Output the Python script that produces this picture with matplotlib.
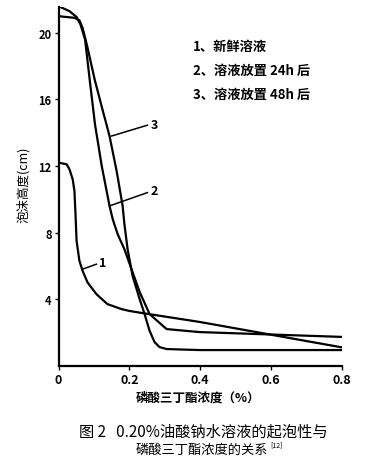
import matplotlib
matplotlib.use("Agg")
import matplotlib.pyplot as plt

plt.rcParams['font.family'] = ['Noto Sans CJK SC', 'DejaVu Sans']

# 曲线数据
# 1: 新鲜溶液
x1 = [0, 0.023, 0.031, 0.04, 0.045, 0.048, 0.051, 0.059, 0.068, 0.082, 0.107, 0.138,
      0.178, 0.20, 0.237, 0.398, 0.80]
y1 = [12.2, 12.1, 11.8, 11.2, 10.5, 9.1, 7.5, 6.3, 5.7, 5.0, 4.3, 3.7,
      3.4, 3.29, 3.16, 2.63, 1.1]

# 2: 放置 24h
x2 = [0, 0.031, 0.051, 0.062, 0.075, 0.089, 0.103, 0.122, 0.144, 0.153, 0.167, 0.186,
      0.206, 0.229, 0.257, 0.305, 0.398, 0.80]
y2 = [21.6, 21.3, 20.95, 20.5, 19.6, 17.0, 14.5, 12.0, 9.6, 8.8, 7.9, 7.0,
      5.8, 4.43, 3.1, 2.2, 2.02, 1.73]

# 3: 放置 48h
x3 = [0, 0.045, 0.059, 0.068, 0.082, 0.102, 0.124, 0.144, 0.164, 0.181, 0.186, 0.195,
      0.209, 0.229, 0.243, 0.257, 0.271, 0.285, 0.305, 0.398, 0.80]
y3 = [21.0, 20.9, 20.75, 20.3, 19.1, 17.2, 15.4, 13.8, 11.7, 9.6, 8.5, 7.0,
      5.4, 4.0, 3.1, 2.1, 1.42, 1.12, 1.0, 0.94, 0.94]

xticks = [0, 0.2, 0.4, 0.6, 0.8]
xticklabels = ['0', '0.2', '0.4', '0.6', '0.8']
yticks = [4, 8, 12, 16, 20]
yticklabels = ['4', '8', '12', '16', '20']

legend_lines = ['1、新鲜溶液', '2、溶液放置 24h 后', '3、溶液放置 48h 后']

W, H = 369, 477
fig = plt.figure(figsize=(W / 100, H / 100), dpi=100)
ax = fig.add_axes([58.5 / W, 1 - 366.7 / H, (342 - 58.5) / W, (366.7 - 8) / H])

for xs, ys in [(x1, y1), (x2, y2), (x3, y3)]:
    ax.plot(xs, ys, color='black', lw=1.6, solid_capstyle='round', solid_joinstyle='round')

ax.set_xlim(0, 0.8)
ax.set_ylim(0, 21.55)
ax.spines['top'].set_visible(False)
ax.spines['right'].set_visible(False)
ax.spines['left'].set_linewidth(1.6)
ax.spines['bottom'].set_linewidth(1.6)
ax.set_xticks(xticks)
ax.set_xticklabels(xticklabels, fontsize=9, fontweight='bold')
ax.set_yticks(yticks)
ax.set_yticklabels(yticklabels, fontsize=8, fontweight='bold')
ax.tick_params(direction='out', length=3, width=1, pad=2)

# 曲线编号及引线
labels = [('1', (0.068, 5.8), (0.107, 6.1), (0.124, 6.2)),
          ('2', (0.144, 9.6), (0.251, 10.4), (0.271, 10.5)),
          ('3', (0.15, 13.8), (0.251, 14.45), (0.271, 14.5))]
for txt, p0, p1, pt in labels:
    ax.plot([p0[0], p1[0]], [p0[1], p1[1]], color='black', lw=1.1)
    ax.text(pt[0], pt[1], txt, fontsize=9, fontweight='bold', ha='center', va='center')

# 图例文字
for i, s in enumerate(legend_lines):
    fig.text(193 / W, 1 - (47 + i * 24) / H, s, fontsize=9.5, fontweight='bold',
             ha='left', va='center')

fig.text(23 / W, 1 - 185 / H, '泡沫高度(cm)', rotation=90, fontsize=9,
         fontweight='medium', ha='center', va='center')
fig.text(198 / W, 1 - 398 / H, '磷酸三丁酯浓度（%）', fontsize=9, fontweight='bold',
         ha='center', va='center')

fig.text(203 / W, 1 - 432 / H, '图 2   0.20%油酸钠水溶液的起泡性与', fontsize=11,
         ha='center', va='center')
fig.text(268 / W, 1 - 450 / H, '磷酸三丁酯浓度的关系', fontsize=9.5,
         ha='right', va='center')
fig.text(270 / W, 1 - 445 / H, '[12]', fontsize=5, ha='left', va='center')

fig.savefig('out.png', dpi=100)
